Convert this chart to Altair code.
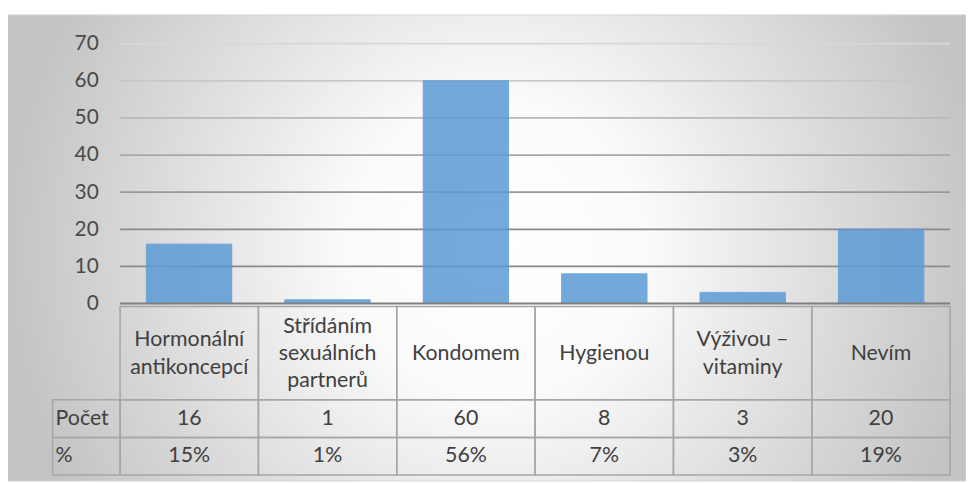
import altair as alt
import pandas as pd

# ---- data ----
categories = ["Hormonální\nantikoncepcí", "Střídáním\nsexuálních\npartnerů", "Kondomem",
              "Hygienou", "Výživou –\nvitaminy", "Nevím"]
counts = [16, 1, 60, 8, 3, 20]
percents = ["15%", "1%", "56%", "7%", "3%", "19%"]
row_labels = ["Počet", "%"]
y_ticks = [0, 10, 20, 30, 40, 50, 60, 70]
grid_ticks = [10, 20, 30, 40, 50, 60, 70]

# ---- layout constants (pixels, relative to the plot area) ----
W, H = 837, 435
Y_ZERO = 262
ROW_TOPS = [265, 359, 397, 435]
HEADER_W = 68
LINE_H = 27.5
FONT = "Lato"
FS = 21.5
TXT = "#404040"
BORDER = "#a6a6a6"

df = pd.DataFrame({"cat": categories, "count": counts, "pct": percents})
df["nlines"] = [c.count("\n") + 1 for c in categories]
grid_df = pd.DataFrame({"v": grid_ticks})
one = pd.DataFrame({"a": [0]})

yscale = alt.Scale(domain=[0, 70], range=[Y_ZERO, 0])
yaxis = alt.Axis(values=y_ticks, grid=False, domain=False, ticks=False,
                 labelPadding=22, labelFontSize=21, labelColor="#4a4a4a",
                 labelFont=FONT, title=None, zindex=2)
x_bar = alt.X("cat:N", sort=categories,
              scale=alt.Scale(domain=categories, paddingInner=0.383, paddingOuter=0.19), axis=None)
x_cell = alt.X("cat:N", sort=categories,
               scale=alt.Scale(domain=categories, paddingInner=0, paddingOuter=0), axis=None)

bg = alt.Chart(one).mark_rect(
    fill=alt.RadialGradient(
        gradient="radial", x1=0.51, y1=0.5, r1=0, x2=0.51, y2=0.5, r2=0.51,
        stops=[alt.GradientStop(offset=0, color="#ffffff"),
               alt.GradientStop(offset=0.3, color="#fbfbfb"),
               alt.GradientStop(offset=0.6, color="#e3e3e3"),
               alt.GradientStop(offset=1, color="#c4c4c4")]),
    stroke="#d4d4d4", strokeWidth=1
).encode(x=alt.value(-114), x2=alt.value(W + 16), y=alt.value(-29), y2=alt.value(H + 6))

grid = alt.Chart(grid_df).mark_rule(strokeWidth=1.8).encode(
    y=alt.Y("v:Q", scale=yscale, axis=yaxis),
    x=alt.value(0), x2=alt.value(W),
    color=alt.Color("v:Q", scale=alt.Scale(domain=[20, 70], range=["#8a8a8a", "#d8d8d8"], clamp=True),
                    legend=None),
)

bars = alt.Chart(df).mark_bar(color="#5b9bd5", opacity=0.85, stroke="#5b9bd5", strokeWidth=1).encode(
    x=x_bar, y=alt.Y("count:Q", scale=yscale, axis=yaxis))

baseline = alt.Chart(one).mark_rule(color="#7f7f7f", strokeWidth=2).encode(
    y=alt.datum(0), x=alt.value(0), x2=alt.value(W))

layers = [bg, grid, bars, baseline]

# table cells
for i in range(3):
    layers.append(alt.Chart(df).mark_rect(fill=None, stroke=BORDER, strokeWidth=1.5).encode(
        x=x_cell, y=alt.value(ROW_TOPS[i]), y2=alt.value(ROW_TOPS[i + 1])))
for i in range(1, 3):
    layers.append(alt.Chart(one).mark_rect(fill=None, stroke=BORDER, strokeWidth=1.5).encode(
        x=alt.value(-HEADER_W), x2=alt.value(0), y=alt.value(ROW_TOPS[i]), y2=alt.value(ROW_TOPS[i + 1])))

# category labels, vertically centred in the first table row
cat_mid = (ROW_TOPS[0] + ROW_TOPS[1]) / 2 + 1
for n in (1, 2, 3):
    layers.append(alt.Chart(df).transform_filter(alt.datum.nlines == n).mark_text(
        font=FONT, fontSize=FS, color=TXT, lineBreak="\n", lineHeight=LINE_H, baseline="middle").encode(
        x=x_cell, y=alt.value(cat_mid - (n - 1) * LINE_H / 2), text="cat:N"))

layers.append(alt.Chart(df).mark_text(font=FONT, fontSize=FS, color=TXT, baseline="middle").encode(
    x=x_cell, y=alt.value((ROW_TOPS[1] + ROW_TOPS[2]) / 2), text="count:Q"))
layers.append(alt.Chart(df).mark_text(font=FONT, fontSize=FS, color=TXT, baseline="middle").encode(
    x=x_cell, y=alt.value((ROW_TOPS[2] + ROW_TOPS[3]) / 2), text="pct:N"))
for i, lab in enumerate(row_labels):
    layers.append(alt.Chart(pd.DataFrame({"t": [lab]})).mark_text(
        font=FONT, fontSize=FS, color=TXT, baseline="middle", align="left").encode(
        x=alt.value(-HEADER_W + 3), y=alt.value((ROW_TOPS[i + 1] + ROW_TOPS[i + 2]) / 2), text="t:N"))

chart = alt.layer(*layers).resolve_scale(x="independent", color="independent").properties(
    width=W, height=H,
    autosize=alt.AutoSizeParams(type="none"),
    padding={"left": 113, "top": 34, "right": 16, "bottom": 6},
    background="white",
).configure_view(stroke=None).configure(font=FONT)

chart.save("out.html", embed_options={"renderer": "svg", "actions": False})
